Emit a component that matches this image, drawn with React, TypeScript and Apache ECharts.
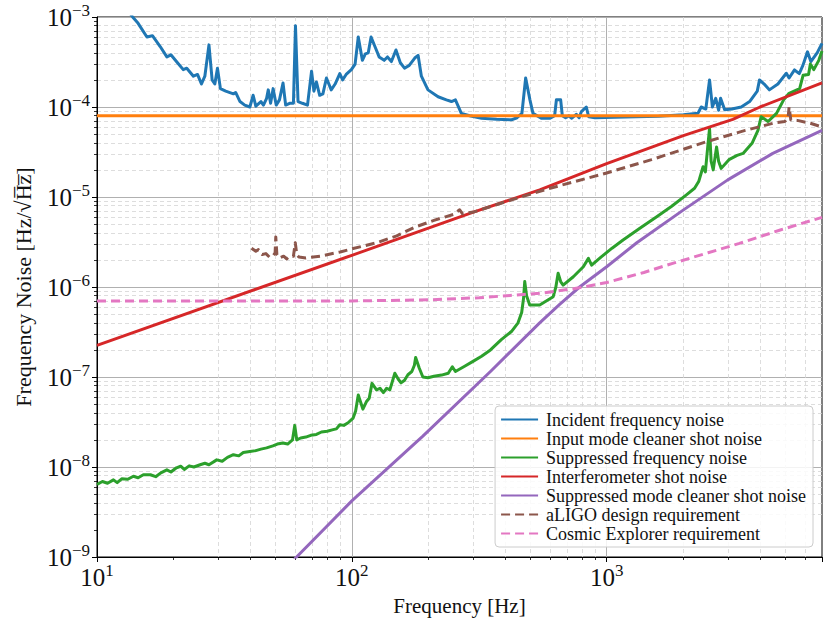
import React, { useEffect, useRef } from "react";
import * as echarts from "echarts";

const FONT = '"Liberation Serif", "DejaVu Serif", serif';
const TXT = "#111111";

const X_MIN = 10;
const X_MAX = 7000;
const Y_MIN = 1e-9;
const Y_MAX = 1e-3;

const seriesNames = [
  "Incident frequency noise",
  "Input mode cleaner shot noise",
  "Suppressed frequency noise",
  "Interferometer shot noise",
  "Suppressed mode cleaner shot noise",
  "aLIGO design requirement",
  "Cosmic Explorer requirement",
];

const seriesColors = ["#1f77b4", "#ff7f0e", "#2ca02c", "#d62728", "#9467bd", "#8c564b", "#e377c2"];

const incidentNoise: [number, number][] = [
  [13.2, 1.2e-3], [13.8, 1.0e-3], [14.5, 8.5e-4], [15.7, 6.0e-4], [16.5, 6.2e-4], [17.7, 4.7e-4],
  [18.8, 3.6e-4], [19.5, 3.8e-4], [20.5, 3.2e-4], [21.8, 2.6e-4], [22.5, 2.7e-4], [23.9, 2.2e-4],
  [24.8, 2.3e-4], [25.7, 1.8e-4], [26.5, 2.2e-4], [27.5, 4.9e-4], [28.3, 2.0e-4], [29.0, 1.8e-4],
  [29.7, 2.7e-4], [30.5, 1.6e-4], [32, 1.5e-4], [34.3, 1.4e-4], [35, 1.45e-4], [36.4, 1.15e-4],
  [38, 1.05e-4], [39.8, 1.0e-4], [41, 1.35e-4], [42, 1.02e-4], [44, 1.15e-4], [45, 1.05e-4],
  [46.3, 1.25e-4], [47, 1.55e-4], [48, 1.1e-4], [49.1, 1.6e-4], [50.5, 1.05e-4], [52, 1.2e-4],
  [53.7, 1.85e-4], [55, 1.05e-4], [57, 1.1e-4], [59, 1.1e-4], [60.1, 8.0e-4], [61.5, 1.15e-4],
  [64, 1.1e-4], [67, 1.05e-4], [69.5, 2.5e-4], [71, 1.5e-4], [72.6, 1.9e-4], [74.8, 1.35e-4],
  [77, 1.4e-4], [79.5, 2.1e-4], [83, 1.55e-4], [86, 1.8e-4], [89.7, 2.35e-4], [92, 2.0e-4],
  [95, 2.3e-4], [99.6, 2.6e-4], [103, 3.0e-4], [106, 6.0e-4], [110, 3.3e-4], [113, 3.9e-4],
  [116, 4.0e-4], [119, 6.0e-4], [124, 4.5e-4], [128, 3.6e-4], [134, 3.3e-4], [138, 3.6e-4],
  [143, 3.2e-4], [149, 4.3e-4], [155, 3.1e-4], [161, 2.7e-4], [168, 2.9e-4], [176.6, 3.5e-4],
  [182, 3.75e-4], [187.5, 2.2e-4], [199, 1.55e-4], [218, 1.3e-4], [235, 1.2e-4], [246, 1.15e-4],
  [255, 1.2e-4], [269, 8.5e-5], [290, 8.0e-5], [323, 7.5e-5], [370, 7.3e-5], [423, 7.2e-5],
  [445, 7.6e-5], [465, 8.5e-5], [481, 2.1e-4], [500, 1.2e-4], [514, 8.5e-5], [554, 7.5e-5],
  [600, 7.5e-5], [625, 8.0e-5], [635, 1.2e-4], [660, 1.2e-4], [670, 8.0e-5], [690, 7.6e-5],
  [710, 8.0e-5], [730, 7.5e-5], [760, 8.3e-5], [780, 7.6e-5], [796, 8.9e-5], [832, 1.0e-4],
  [850, 7.8e-5], [900, 7.6e-5], [1075, 7.7e-5], [1300, 7.8e-5], [1600, 7.9e-5], [2000, 8.2e-5],
  [2281, 8.5e-5], [2350, 1.0e-4], [2450, 9.5e-5], [2534, 2.0e-4], [2600, 1.0e-4], [2680, 1.25e-4],
  [2750, 9.2e-5], [2800, 1.25e-4], [2905, 9.3e-5], [3100, 9.5e-5], [3375, 1.0e-4], [3640, 1.15e-4],
  [3900, 1.5e-4], [3980, 2.0e-4], [4150, 1.8e-4], [4350, 1.55e-4], [4700, 1.8e-4], [5070, 2.37e-4],
  [5200, 2.1e-4], [5460, 2.58e-4], [5700, 2.35e-4], [5890, 2.9e-4], [6140, 4.1e-4], [6330, 3.2e-4],
  [6700, 4.0e-4], [7000, 5.1e-4],
];

const imcShotNoise: [number, number][] = [
  [10, 8.0e-5], [7000, 8.0e-5],
];

const suppressedNoise: [number, number][] = [
  [10, 6.4e-9], [10.5, 6.9e-9], [11, 6.6e-9], [11.6, 7.2e-9], [12, 6.7e-9], [12.5, 7.4e-9],
  [13.2, 7.3e-9], [13.9, 7.9e-9], [14.5, 7.6e-9], [15.2, 8.2e-9], [16.2, 8.2e-9], [17, 7.8e-9],
  [17.8, 8.6e-9], [18.8, 9.3e-9], [19.5, 8.8e-9], [20.5, 9.8e-9], [21.3, 1.02e-8], [22, 9.4e-9],
  [23, 1.03e-8], [24, 1.0e-8], [25.4, 1.06e-8], [26.5, 1.1e-8], [27.5, 1.06e-8], [29.5, 1.2e-8],
  [31, 1.16e-8], [32.5, 1.28e-8], [34.3, 1.37e-8], [36, 1.33e-8], [37.5, 1.45e-8], [39.8, 1.49e-8],
  [42, 1.52e-8], [44, 1.58e-8], [46.3, 1.63e-8], [49, 1.72e-8], [51, 1.8e-8], [53.7, 1.85e-8],
  [56, 1.8e-8], [58.5, 2.0e-8], [59.7, 2.9e-8], [60.8, 2.0e-8], [63, 2.1e-8], [66, 2.15e-8],
  [69, 2.25e-8], [72.6, 2.3e-8], [76, 2.45e-8], [80, 2.5e-8], [84.5, 2.6e-8], [87, 2.65e-8],
  [89.7, 2.95e-8], [93, 2.9e-8], [96.7, 3.1e-8], [101.2, 3.5e-8], [103.5, 4.2e-8], [106, 6.3e-8],
  [110.5, 4.4e-8], [114, 5.3e-8], [117, 5.8e-8], [120, 8.5e-8], [125, 7.2e-8], [129, 7.5e-8],
  [133, 6.7e-8], [137, 7.5e-8], [141, 7.2e-8], [147.5, 1.1e-7], [152, 9.5e-8], [156, 8.6e-8],
  [161, 9.2e-8], [166, 1.06e-7], [172, 1.15e-7], [176, 1.35e-7], [178, 1.65e-7], [184, 1.25e-7],
  [190, 1.0e-7], [199, 9.8e-8], [210, 1.02e-7], [225, 1.05e-7], [239, 1.1e-7], [248, 1.3e-7],
  [255, 1.15e-7], [275, 1.3e-7], [300, 1.5e-7], [323, 1.7e-7], [350, 2.0e-7], [386, 2.6e-7],
  [423, 3.2e-7], [449, 4.0e-7], [464, 5.2e-7], [472, 7.5e-7], [477, 1.15e-6], [485, 8.0e-7],
  [499, 6.3e-7], [546, 6.3e-7], [617, 7.8e-7], [632, 1.0e-6], [645, 1.42e-6], [660, 1.15e-6],
  [675, 1.05e-6], [740, 1.3e-6], [810, 1.68e-6], [848, 2.08e-6], [873, 1.75e-6], [950, 2.15e-6],
  [1050, 2.7e-6], [1160, 3.33e-6], [1350, 4.5e-6], [1567, 6.0e-6], [1800, 7.9e-6], [2050, 1.05e-5],
  [2213, 1.25e-5], [2300, 1.5e-5], [2390, 2.17e-5], [2440, 1.9e-5], [2490, 3.5e-5], [2534, 5.8e-5],
  [2570, 2.5e-5], [2620, 2.0e-5], [2655, 2.6e-5], [2700, 3.6e-5], [2750, 2.5e-5], [2815, 2.08e-5],
  [3020, 2.6e-5], [3250, 2.9e-5], [3430, 3.05e-5], [3720, 3.95e-5], [3924, 5.5e-5], [4040, 7.8e-5],
  [4300, 6.9e-5], [4640, 8.5e-5], [4950, 1.2e-4], [5200, 1.42e-4], [5720, 1.6e-4], [5900, 2.25e-4],
  [6200, 2.3e-4], [6300, 3.0e-4], [6500, 2.6e-4], [6800, 3.3e-4], [7000, 4.2e-4],
];

const ifoShotNoise: [number, number][] = [
  [10, 2.25e-7], [100, 2.25e-6], [300, 6.8e-6], [546, 1.2e-5], [1000, 2.35e-5], [2000, 4.8e-5],
  [3126, 7.3e-5], [4000, 1.0e-4], [7000, 1.85e-4],
];

const suppressedImcShot: [number, number][] = [
  [55, 7.5e-10], [60.7, 1.0e-9], [100, 4.2e-9], [190, 2.2e-8], [350, 1.15e-7], [546, 4.0e-7],
  [654, 6.4e-7], [783, 1.0e-6], [1000, 1.68e-6], [1313, 3.1e-6], [1990, 7.1e-6], [2987, 1.55e-5],
  [4487, 3.05e-5], [7000, 5.5e-5],
];

const aligoReq: [number, number][] = [
  [40.4, 2.7e-6], [42, 2.5e-6], [43, 2.6e-6], [44.5, 2.3e-6], [46, 2.35e-6], [47.5, 2.15e-6],
  [49, 2.2e-6], [50, 2.4e-6], [50.3, 3.6e-6], [50.8, 2.3e-6], [52, 2.1e-6], [54, 2.2e-6],
  [55.5, 2.05e-6], [57, 2.2e-6], [59, 2.2e-6], [60, 3.1e-6], [60.8, 2.3e-6], [62, 2.15e-6],
  [66, 2.1e-6], [75, 2.2e-6], [90, 2.45e-6], [100, 2.65e-6], [125, 3.1e-6], [150, 3.7e-6],
  [176, 4.6e-6], [210, 5.5e-6], [250, 6.4e-6], [265, 7.2e-6], [272, 6.5e-6], [300, 6.8e-6],
  [424, 9.3e-6], [600, 1.25e-5], [1000, 1.85e-5], [1500, 2.6e-5], [2455, 4.1e-5], [3500, 5.5e-5],
  [4600, 6.7e-5], [5000, 6.9e-5], [5150, 7.5e-5], [5200, 1.0e-4], [5280, 7.2e-5], [5600, 7.1e-5],
  [6300, 6.6e-5], [7000, 6.0e-5],
];

const ceReq: [number, number][] = [
  [10, 7.0e-7], [100, 7.0e-7], [200, 7.2e-7], [316, 7.6e-7], [546, 8.5e-7], [750, 9.6e-7],
  [1000, 1.12e-6], [1400, 1.45e-6], [1816, 1.83e-6], [2500, 2.4e-6], [3319, 3.05e-6],
  [4800, 4.3e-6], [7000, 5.94e-6],
];

const seriesData = [incidentNoise, imcShotNoise, suppressedNoise, ifoShotNoise, suppressedImcShot, aligoReq, ceReq];
const seriesDashed = [false, false, false, false, false, true, true];

// minor tick positions (exponent space) for the overlay axes
const minorMultipliers = [2, 3, 4, 5, 6, 7, 8, 9];
const xDecades = [1, 2, 3];
const yDecades = [-9, -8, -7, -6, -5, -4];

function minorExponents(decades: number[], maxExp: number): number[] {
  const out: number[] = [];
  decades.forEach((d) => {
    minorMultipliers.forEach((k) => {
      const e = d + Math.log10(k);
      if (e <= maxExp + 1e-9) out.push(e);
    });
  });
  return out;
}

function powLabel(v: number): string {
  const e = Math.log10(v);
  const r = Math.round(e);
  if (Math.abs(e - r) > 1e-6) return "";
  const exp = r < 0 ? "\u2212" + Math.abs(r) : String(r);
  return "{b|10}{s|" + exp + "}";
}

const labelRich = {
  b: { fontFamily: FONT, fontSize: 25, lineHeight: 30, color: TXT },
  s: { fontFamily: FONT, fontSize: 17, lineHeight: 16, verticalAlign: "top", color: TXT },
};

export default function App() {
  const ref = useRef<HTMLDivElement>(null);

  useEffect(() => {
    if (!ref.current) return;
    const chart = echarts.init(ref.current, null, { renderer: "svg" });
    const xMaxExp = Math.log10(X_MAX);
    const series: any[] = seriesNames.map((name, i) => ({
      name,
      type: "line",
      data: seriesData[i],
      xAxisIndex: 0,
      yAxisIndex: 0,
      showSymbol: false,
      symbol: "none",
      silent: true,
      clip: true,
      smooth: false,
      lineStyle: {
        color: seriesColors[i],
        width: 3,
        type: seriesDashed[i] ? [9, 5] : "solid",
        cap: "butt",
        join: "round",
      },
      itemStyle: { color: seriesColors[i] },
    }));

    const option: any = {
      animation: false,
      backgroundColor: "#ffffff",
      grid: {
        left: 97,
        right: 8,
        top: 17,
        bottom: 69,
        show: true,
        borderColor: "#000000",
        borderWidth: 1,
        backgroundColor: "transparent",
      },
      legend: {
        orient: "vertical",
        right: 17,
        bottom: 79,
        itemWidth: 37,
        itemHeight: 12,
        itemGap: 0,
        padding: [4, 7, 4, 5],
        backgroundColor: "rgba(255,255,255,0.85)",
        borderColor: "#cccccc",
        borderWidth: 1,
        borderRadius: 4,
        selectedMode: false,
        itemStyle: { opacity: 0, borderWidth: 0 },
        textStyle: { fontFamily: FONT, fontSize: 18, lineHeight: 19, color: TXT, padding: [0, 0, 0, 3] },
        data: seriesNames,
      },
      xAxis: [
        {
          type: "log",
          logBase: 10,
          min: X_MIN,
          max: X_MAX,
          position: "bottom",
          name: "Frequency [Hz]",
          nameLocation: "middle",
          nameGap: 37,
          nameTextStyle: { fontFamily: FONT, fontSize: 21, color: TXT, lineHeight: 24 },
          axisLine: { show: true, lineStyle: { color: "#000000", width: 1 } },
          axisTick: { show: true, inside: false, length: 5, lineStyle: { color: "#000000", width: 1 } },
          axisLabel: { show: true, margin: 5, interval: 0, hideOverlap: false, formatter: powLabel, rich: labelRich },
          splitLine: { show: true, showMinLine: false, showMaxLine: false, lineStyle: { color: "#b0b0b0", width: 1 } },
          minorTick: { show: false },
          minorSplitLine: { show: false },
        },
        {
          type: "value",
          min: 1,
          max: xMaxExp,
          position: "bottom",
          axisLine: { show: false },
          axisLabel: { show: false },
          axisTick: {
            show: true,
            inside: false,
            length: 3,
            customValues: minorExponents(xDecades, xMaxExp),
            lineStyle: { color: "#000000", width: 0.8 },
          },
          splitLine: {
            show: true,
            showMinLine: false,
            showMaxLine: false,
            lineStyle: { color: "#d4d4d4", width: 0.8, type: [4, 3] },
          },
        },
      ],
      yAxis: [
        {
          type: "log",
          logBase: 10,
          min: Y_MIN,
          max: Y_MAX,
          position: "left",
          name: "Frequency Noise [Hz/\u221AH\u0305z\u0305]",
          nameLocation: "middle",
          nameGap: 62,
          nameTextStyle: { fontFamily: FONT, fontSize: 22, color: TXT, lineHeight: 24 },
          axisLine: { show: true, lineStyle: { color: "#000000", width: 1 } },
          axisTick: { show: true, inside: false, length: 5, lineStyle: { color: "#000000", width: 1 } },
          axisLabel: { show: true, margin: 7, interval: 0, hideOverlap: false, formatter: powLabel, rich: labelRich },
          splitLine: { show: true, showMinLine: false, showMaxLine: false, lineStyle: { color: "#b0b0b0", width: 1 } },
        },
        {
          type: "value",
          min: -9,
          max: -3,
          position: "left",
          axisLine: { show: false },
          axisLabel: { show: false },
          axisTick: {
            show: true,
            inside: false,
            length: 3,
            customValues: minorExponents(yDecades, -3),
            lineStyle: { color: "#000000", width: 0.8 },
          },
          splitLine: {
            show: true,
            showMinLine: false,
            showMaxLine: false,
            lineStyle: { color: "#d4d4d4", width: 0.8, type: [4, 3] },
          },
        },
      ],
      series,
    };
    chart.setOption(option);
    return () => chart.dispose();
  }, []);

  return (
    <div
      ref={ref}
      style={{ position: "absolute", left: 0, top: 0, width: 830, height: 626, background: "#ffffff" }}
    />
  );
}
